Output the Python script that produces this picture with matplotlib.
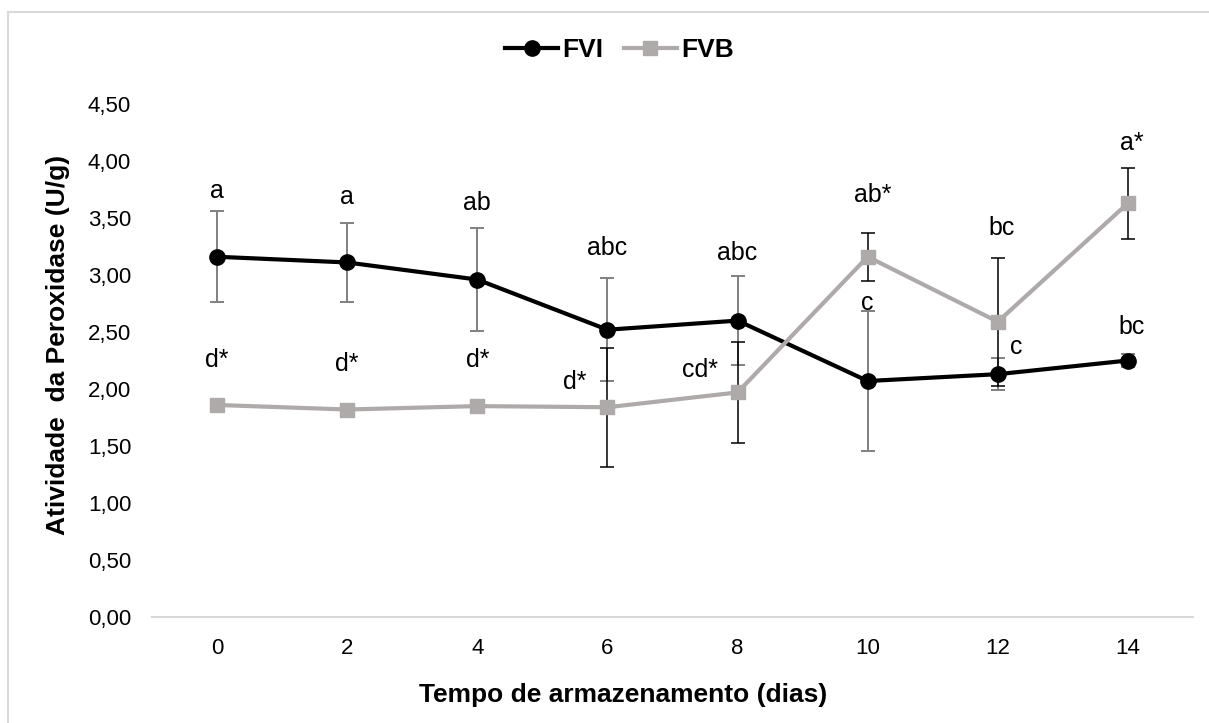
import matplotlib
matplotlib.use("Agg")
import matplotlib.pyplot as plt
from matplotlib.ticker import FuncFormatter, MultipleLocator
from matplotlib.patches import Rectangle

plt.rcParams['font.family'] = ['Liberation Sans', 'DejaVu Sans']

# storage days and peroxidase activity (U/g)
dias = ['0', '2', '4', '6', '8', '10', '12', '14']
fvi = [3.16, 3.11, 2.96, 2.52, 2.60, 2.07, 2.13, 2.25]
fvi_err = [0.40, 0.35, 0.45, 0.45, 0.39, 0.61, 0.14, 0.06]
fvb = [1.86, 1.82, 1.85, 1.84, 1.97, 3.16, 2.59, 3.63]
fvb_err = [0.04, 0.05, 0.03, 0.52, 0.44, 0.21, 0.56, 0.31]

# significance letters
fvi_letras = ['a', 'a', 'ab', 'abc', 'abc', 'c', 'c', 'bc']
fvb_letras = ['d*', 'd*', 'd*', 'd*', 'cd*', 'ab*', 'bc', 'a*']
# label offsets from each point (pixels, x right / y up)
fvi_off = [(0, 66), (0, 65), (0, 77), (0, 82), (0, 68), (0, 78), (18, 27), (4, 34)]
fvb_off = [(0, 45), (0, 46), (0, 46), (-33, 25), (-38, 22), (5, 62), (4, 94), (4, 60)]

cinza = '#aeaaaa'

fig = plt.figure(figsize=(12.09, 7.23), dpi=100)
ax = fig.add_axes([152/1209, 106/723, (1193-152)/1209, (617-104)/723])

x = list(range(len(dias)))

ax.errorbar(x, fvi, yerr=fvi_err, fmt='none', ecolor='#808080', elinewidth=1.4,
            capsize=5, capthick=1.4, zorder=2)
ax.plot(x, fvi, color='black', lw=3, marker='o', ms=11, label='FVI', zorder=3)
ax.errorbar(x, fvb, yerr=fvb_err, fmt='none', ecolor='black', elinewidth=1.1,
            capsize=5, capthick=1.1, zorder=4)
ax.plot(x, fvb, color=cinza, lw=3, marker='s', ms=10, label='FVB', zorder=5)

for i in x:
    ax.annotate(fvi_letras[i], (i, fvi[i]),
                xytext=(fvi_off[i][0]*0.72, fvi_off[i][1]*0.72),
                textcoords='offset points', ha='center', va='center', fontsize=18)
    ax.annotate(fvb_letras[i], (i, fvb[i]),
                xytext=(fvb_off[i][0]*0.72, fvb_off[i][1]*0.72),
                textcoords='offset points', ha='center', va='center', fontsize=18)

ax.set_xlim(-0.5, 7.5)
ax.set_ylim(0, 4.5)
ax.set_xticks(x)
ax.set_xticklabels(dias)
ax.yaxis.set_major_locator(MultipleLocator(0.5))
ax.yaxis.set_major_formatter(FuncFormatter(lambda v, p: f'{v:.2f}'.replace('.', ',')))

for s in ['top', 'right', 'left']:
    ax.spines[s].set_visible(False)
ax.spines['bottom'].set_color('#d9d9d9')
ax.spines['bottom'].set_linewidth(1.5)
ax.tick_params(axis='both', length=0, labelsize=16, colors='black')
ax.tick_params(axis='x', pad=15)
ax.tick_params(axis='y', pad=15)

ax.set_xlabel('Tempo de armazenamento (dias)', fontsize=19, fontweight='bold')
ax.set_ylabel('Atividade  da Peroxidase (U/g)', fontsize=19, fontweight='bold')
ax.xaxis.set_label_coords(0.453, -0.129)
ax.yaxis.set_label_coords(-0.079, 0.53)

leg = ax.legend(loc='center', bbox_to_anchor=(0.449, 1.105), ncol=2, frameon=False,
                prop={'weight': 'bold', 'size': 19}, handlelength=2.0,
                handletextpad=0.15, columnspacing=0.8)

# chart area border
fig.patches.append(Rectangle((8/1209, -0.1), 1.2, (723-12)/723 + 0.1,
                             transform=fig.transFigure, fill=False,
                             edgecolor='#d9d9d9', lw=1.5))

fig.savefig('out.png', dpi=100)
